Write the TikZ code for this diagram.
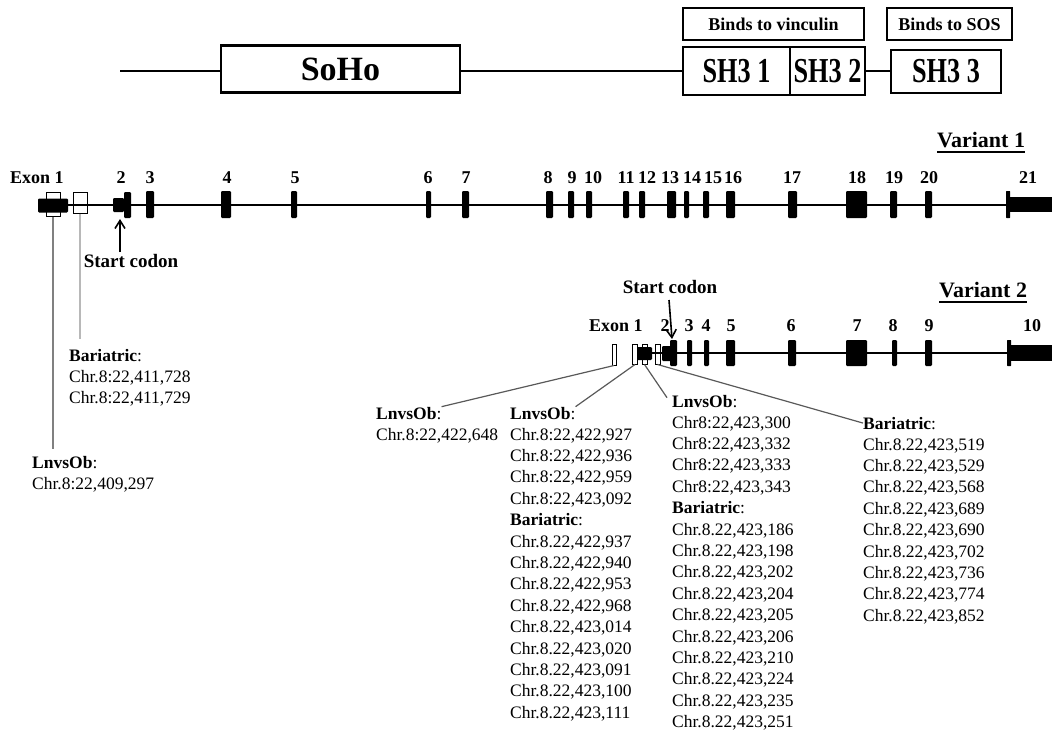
\documentclass[tikz,border=0pt]{standalone}
\usepackage{fontspec}
\usepackage{graphicx}
\setmainfont{Liberation Serif}
\usetikzlibrary{arrows.meta}
\begin{document}
\begin{tikzpicture}[x=1pt,y=-1pt,
  dombox/.style={draw, line width=2.6pt, inner sep=0, font=\bfseries\fontsize{34}{40}\selectfont},
  shbox/.style={draw, line width=2.6pt, inner sep=0, font=\bfseries\fontsize{35}{40}\selectfont},
  bindbox/.style={draw, line width=2.6pt, inner sep=0, font=\bfseries\fontsize{18}{22}\selectfont},
  bb/.style={line width=2pt},
  exon/.style={fill=black, draw=none, inner sep=0, rounded corners=1.2pt},
  utrbox/.style={draw=black, fill=white, line width=1pt, inner sep=0},
  exlab/.style={font=\bfseries\fontsize{18}{21}\selectfont, inner sep=0, anchor=base},
  sclab/.style={font=\bfseries\fontsize{19}{22}\selectfont, inner sep=0, anchor=base},
  varlab/.style={font=\bfseries\fontsize{22}{26}\selectfont, inner sep=0, anchor=base west},
  hdr/.style={font=\fontsize{17.5}{21.4}\selectfont, inner sep=0, anchor=base west},
  lst/.style={font=\fontsize{17.5}{21.4}\selectfont, inner sep=0, anchor=north west, align=left},
  sarrow/.style={line width=1.6pt, -{Straight Barb[length=8pt,width=10pt,line width=1.6pt]}},
  lead/.style={line width=1.2pt, draw=black!65},
]
\useasboundingbox (0,0) rectangle (1052,732);

% ---------------- protein domains ----------------
\coordinate (tstart) at (120,71);
\node[dombox, minimum width=239pt, minimum height=47pt] (soho) at (340.5,69) {SoHo};
\node[shbox, minimum width=107pt, minimum height=48pt] (sh1) at (736.5,71) {\scalebox{0.75}[1]{SH3 1}};
\node[shbox, minimum width=75pt, minimum height=48pt] (sh2) at (827.5,71) {\scalebox{0.75}[1]{SH3 2}};
\node[shbox, minimum width=110pt, minimum height=43pt] (sh3) at (946,71.5) {\scalebox{0.75}[1]{SH3 3}};
\node[bindbox, minimum width=181pt, minimum height=32pt] (bvin) at (773.5,24) {Binds to vinculin};
\node[bindbox, minimum width=125pt, minimum height=32pt] (bsos) at (949.5,24) {Binds to SOS};
\draw[bb] (tstart) -- (tstart -| soho.west);
\draw[bb] (soho.east |- tstart) -- (sh1.west |- tstart);
\draw[bb] (sh2.east |- tstart) -- (sh3.west |- tstart);

% ---------------- Variant 1 ----------------
\node[varlab] (var1) at (937,147) {Variant 1};
\draw[line width=1.8pt] ([yshift=-5pt]var1.base west) -- ([yshift=-5pt]var1.base east);

\node[utrbox, minimum width=14pt, minimum height=24pt] (u1a) at (53,204.5) {};
\node[utrbox, minimum width=14pt, minimum height=21pt] (u1b) at (80,202.5) {};
\coordinate (v1s) at (38,205);
\coordinate (v1e) at (1010,205);
\draw[bb] (v1s) -- (v1e);
\node[exon, minimum width=30pt, minimum height=14pt] (e1) at (53,205.5) {};
\node[exlab, anchor=base west] (lx1) at (10,183) {Exon 1};
\node[exon, minimum width=11pt, minimum height=14pt] (e2s) at (118.5,205) {};
\node[exon, minimum width=7pt, minimum height=26pt] (e2t) at (127.5,205) {};
\node[exlab] (l2) at (121,183) {2};
\foreach \a/\b/\n/\lx in {146/154/3/150, 221/231/4/227, 291/297/5/295, 426/431/6/428,
  462/469/7/466, 546/553/8/548, 568/574/9/572, 586/592/10/593, 623/629/11/626,
  639/645/12/647, 667/676/13/670, 684/689/14/692, 703/709/15/713, 726/735/16/733,
  788/797/17/792, 846/867/18/857, 890/897/19/894, 925/932/20/929}{
  \node[exon, minimum width={(\b-\a)*1pt}, minimum height=27pt] (A\n) at ({(\a+\b)/2},204.5) {};
  \node[exlab] (Al\n) at (\lx,183) {\n};
}
\node[exon, rounded corners=0.5pt, minimum width=4pt, minimum height=27pt] (e21b) at (1008,204.5) {};
\node[exon, rounded corners=0pt, minimum width=42pt, minimum height=15pt] (e21t) at (1031,204.5) {};
\node[exlab] (l21) at (1028,183) {21};

% start codon 1
\node[sclab] (sc1) at (131,267) {Start codon};
\coordinate (a1tail) at (120,252);
\coordinate (a1tip) at (120,219);
\draw[sarrow] (a1tail) -- (a1tip);

% annotations variant 1
\node[hdr] (h1) at (69,361) {\textbf{Bariatric}:};
\node[lst] (L1) at (69,367) {\strut Chr.8:22,411,728\\Chr.8:22,411,729};
\node[hdr] (h2) at (32,468) {\textbf{LnvsOb}:};
\node[lst] (L2) at (32,474) {\strut Chr.8:22,409,297};
\draw[line width=1.8pt, draw=black!50, shorten >=7pt] (u1a.south) -- (u1a.south |- h2.north);
\draw[line width=1.8pt, draw=black!28, shorten >=10pt] (u1b.south) -- (u1b.south |- h1.north);

% ---------------- Variant 2 ----------------
\node[varlab] (var2) at (939,297) {Variant 2};
\draw[line width=1.8pt] ([yshift=-5pt]var2.base west) -- ([yshift=-5pt]var2.base east);

\node[utrbox, minimum width=4pt, minimum height=21pt] (bA) at (614,354.5) {};
\node[utrbox, minimum width=5pt, minimum height=20pt] (bB) at (635,354) {};
\node[utrbox, minimum width=5pt, minimum height=20pt] (bC) at (644.5,354) {};
\node[utrbox, minimum width=5pt, minimum height=20pt] (bD) at (657.5,354) {};
\coordinate (v2s) at (637,353);
\coordinate (v2e) at (1011,353);
\draw[bb] (v2s) -- (v2e);
\node[exon, minimum width=15pt, minimum height=13pt] (f1) at (644.5,353.5) {};
\node[exlab, anchor=base west] (mx1) at (589,331) {Exon 1};
\node[exon, minimum width=9pt, minimum height=15pt] (f2s) at (666.5,353.5) {};
\node[exon, minimum width=7pt, minimum height=26pt] (f2t) at (673.5,353) {};
\node[exlab] (m2) at (665,331) {2};
\foreach \a/\b/\n/\lx in {687/692/3/689, 704/709/4/706, 726/735/5/731, 788/796/6/791,
  846/867/7/857, 892/897/8/893, 925/932/9/929}{
  \node[exon, minimum width={(\b-\a)*1pt}, minimum height=26pt] (B\n) at ({(\a+\b)/2},353) {};
  \node[exlab] (Bl\n) at (\lx,331) {\n};
}
\node[exon, rounded corners=0.5pt, minimum width=4pt, minimum height=26pt] (f10b) at (1009,353) {};
\node[exon, rounded corners=0pt, minimum width=41pt, minimum height=16pt] (f10t) at (1031.5,353) {};
\node[exlab] (m10) at (1032,331) {10};

% start codon 2
\node[sclab] (sc2) at (670,293) {Start codon};
\coordinate (a2tail) at (669,300);
\coordinate (a2tip) at (672,339);
\draw[sarrow] (a2tail) -- (a2tip);

% annotations variant 2
\node[hdr] (h3) at (376,419) {\textbf{LnvsOb}:};
\node[lst] (L3) at (376,425) {\strut Chr.8:22,422,648};
\node[hdr] (h4) at (510,419) {\textbf{LnvsOb}:};
\node[lst] (L4) at (510,425) {\strut Chr.8:22,422,927\\Chr.8:22,422,936\\Chr.8:22,422,959\\Chr.8:22,423,092\\
  \textbf{Bariatric}:\\Chr.8.22,422,937\\Chr.8.22,422,940\\Chr.8.22,422,953\\Chr.8.22,422,968\\
  Chr.8.22,423,014\\Chr.8.22,423,020\\Chr.8.22,423,091\\Chr.8.22,423,100\\Chr.8.22,423,111};
\node[hdr] (h5) at (672,407) {\textbf{LnvsOb}:};
\node[lst] (L5) at (672,413) {\strut Chr8:22,423,300\\Chr8:22,423,332\\Chr8:22,423,333\\Chr8:22,423,343\\
  \textbf{Bariatric}:\\Chr.8.22,423,186\\Chr.8.22,423,198\\Chr.8.22,423,202\\Chr.8.22,423,204\\
  Chr.8.22,423,205\\Chr.8.22,423,206\\Chr.8.22,423,210\\Chr.8.22,423,224\\Chr.8.22,423,235\\Chr.8.22,423,251};
\node[hdr] (h6) at (863,429) {\textbf{Bariatric}:};
\node[lst] (L6) at (863,435) {\strut Chr.8.22,423,519\\Chr.8.22,423,529\\Chr.8.22,423,568\\Chr.8.22,423,689\\
  Chr.8.22,423,690\\Chr.8.22,423,702\\Chr.8.22,423,736\\Chr.8.22,423,774\\Chr.8.22,423,852};

\draw[lead] (bA.south) -- (h3.north east);
\draw[lead] (bB.south) -- (h4.north east);
\draw[lead] (bC.south) -- ([xshift=-5pt,yshift=-3pt]h5.north west);
\draw[lead] (bD.south) -- (h6.west);
\end{tikzpicture}
\end{document}
